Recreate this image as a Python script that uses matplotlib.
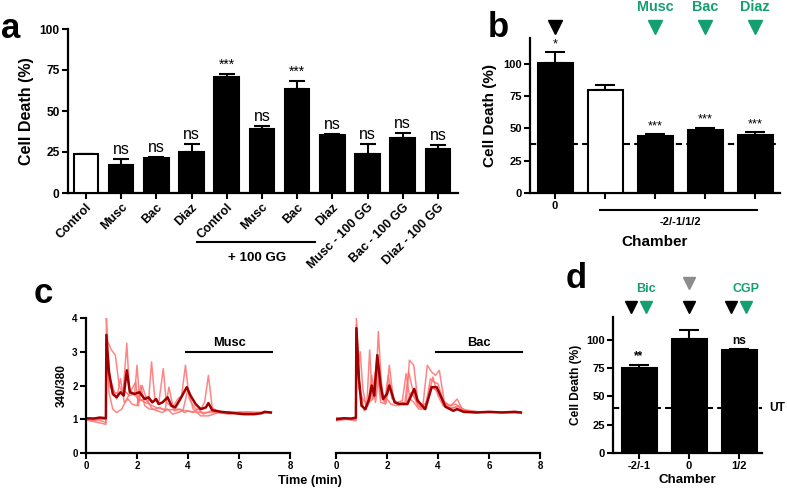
import matplotlib
matplotlib.use("Agg")
import matplotlib.pyplot as plt
import matplotlib.transforms as mtrans

plt.rcParams["font.family"] = ["Liberation Sans", "DejaVu Sans"]
plt.rcParams["font.weight"] = "bold"
plt.rcParams["axes.labelweight"] = "bold"

GREEN = "#14a06e"
DARK = "#a00000"
LIGHT = "#ff7070"

# ---- panel a data
a_labels = ["Control", "Musc", "Bac", "Diaz", "Control", "Musc", "Bac", "Diaz",
            "Musc - 100 GG", "Bac - 100 GG", "Diaz - 100 GG"]
a_vals = [23.5, 17, 21.5, 25, 70.5, 39, 63.5, 35.5, 23.5, 33.5, 27]
a_err = [0.5, 3.5, 0.5, 5, 1.8, 2, 4.7, 0.5, 6.4, 3, 2.5]
a_sig = ["", "ns", "ns", "ns", "***", "ns", "***", "ns", "ns", "ns", "ns"]
a_fill = ["white"] + ["black"] * 10

# ---- panel b data
b_vals = [100.5, 79.8, 44.2, 48.8, 45]
b_err = [8.3, 3.9, 1.3, 1.8, 2]
b_sig = ["*", "", "***", "***", "***"]
b_fill = ["black", "white", "black", "black", "black"]
b_ticklabels = ["0", "", "", "", ""]
b_drugs = ["", "", "Musc", "Bac", "Diaz"]
b_baseline = 38

# ---- panel d data
d_labels = ["-2/-1", "0", "1/2"]
d_vals = [75, 100.6, 90.5]
d_err = [2.9, 8.2, 1.3]
d_sig = ["**", "", "ns"]
d_drugs = ["Bic", "", "CGP"]
d_ut = 40

# ---- panel c data (340/380 ratio vs time, min)
musc_mean_t = [0, 0.3, 0.55, 0.78, 0.8, 0.9, 1.05, 1.2, 1.35, 1.48, 1.6, 1.72, 1.9, 2.1, 2.3,
               2.45, 2.6, 2.75, 2.85, 3.0, 3.2, 3.35, 3.5, 3.7, 3.95, 4.1, 4.3, 4.5, 4.7, 4.8,
               4.95, 5.3, 5.8, 6.2, 6.6, 6.9, 7.0, 7.25]
musc_mean_v = [1.03, 1.02, 1.05, 1.03, 3.5, 2.4, 1.75, 1.65, 1.8, 1.7, 2.45, 1.8, 1.75, 1.8, 1.6,
               1.65, 1.5, 1.6, 1.45, 1.5, 1.65, 1.4, 1.35, 1.6, 1.95, 1.7, 1.45, 1.3, 1.35, 1.48,
               1.27, 1.22, 1.18, 1.15, 1.15, 1.18, 1.22, 1.2]
musc_c1_t = [0, 0.3, 0.5, 0.78, 0.8, 0.85, 1.0, 1.15, 1.3, 1.45, 1.6, 1.7, 1.9, 2.0, 2.1, 2.3,
             2.5, 2.6, 2.75, 3.0, 3.3, 3.6, 3.9, 4.2, 4.6, 5.0, 5.5, 6.0, 6.5, 7.0, 7.25]
musc_c1_v = [1.0, 0.95, 0.98, 0.9, 4.0, 3.3, 3.05, 2.9, 2.0, 1.75, 3.25, 1.9, 1.7, 2.6, 1.6, 1.5,
             1.45, 1.4, 1.35, 1.3, 1.28, 1.3, 1.25, 1.22, 1.2, 1.2, 1.18, 1.2, 1.2, 1.2, 1.2]
musc_c2_t = [0, 0.4, 0.78, 0.8, 0.9, 1.1, 1.3, 1.5, 1.7, 1.9, 2.1, 2.3, 2.45, 2.57, 2.7, 2.85,
             3.03, 3.15, 3.4, 3.6, 3.75, 3.9, 4.05, 4.3, 4.5, 4.65, 4.8, 4.95, 5.2, 5.6, 6.0,
             6.5, 7.0, 7.25]
musc_c2_v = [1.05, 1.0, 1.0, 3.2, 2.0, 1.8, 1.75, 1.85, 1.7, 1.75, 1.55, 1.6, 1.5, 2.7, 1.6, 1.45,
             2.5, 1.5, 1.35, 1.6, 1.7, 2.6, 1.6, 1.3, 1.3, 1.5, 2.3, 1.35, 1.2, 1.22, 1.2,
             1.18, 1.2, 1.2]
musc_c3_t = [0, 0.5, 0.78, 0.8, 0.9, 1.05, 1.2, 1.4, 1.6, 1.8, 1.95, 2.05, 2.2, 2.4, 2.6, 2.8,
             3.0, 3.2, 3.4, 3.6, 3.8, 4.0, 4.2, 4.5, 4.8, 5.2, 5.6, 6.0, 6.5, 7.0, 7.25]
musc_c3_v = [0.98, 0.9, 0.85, 3.4, 1.8, 1.3, 1.2, 1.3, 1.6, 1.9, 2.1, 1.4, 2.0, 1.55, 1.3, 1.25,
             1.2, 1.3, 1.15, 1.2, 1.25, 1.9, 1.3, 1.1, 1.1, 1.2, 1.15, 1.2, 1.18, 1.2, 1.2]
musc_c4_t = [0, 0.5, 0.78, 0.8, 0.95, 1.2, 1.35, 1.5, 1.65, 1.8, 2.0, 2.15, 2.3, 2.5, 2.7, 2.9,
             3.1, 3.25, 3.45, 3.7, 3.85, 4.0, 4.2, 4.4, 4.6, 4.9, 5.3, 5.8, 6.3, 6.8, 7.25]
musc_c4_v = [1.0, 1.05, 1.0, 3.3, 2.2, 1.6, 2.2, 1.5, 1.6, 1.45, 1.4, 2.0, 1.4, 1.3, 1.3, 1.35,
             1.25, 1.95, 1.25, 1.3, 1.2, 1.25, 1.2, 1.3, 1.15, 1.25, 1.2, 1.2, 1.22, 1.2, 1.2]

bac_mean_t = [0, 0.3, 0.6, 0.78, 0.8, 0.9, 1.0, 1.15, 1.3, 1.4, 1.5, 1.62, 1.75, 1.85, 2.0,
              2.09, 2.3, 2.5, 2.8, 3.07, 3.2, 3.5, 3.75, 3.95, 4.1, 4.29, 4.6, 4.75, 5.0, 5.5,
              6.0, 6.5, 7.0, 7.25]
bac_mean_v = [1.0, 1.03, 1.02, 1.05, 3.7, 2.2, 1.4, 1.3, 1.6, 2.0, 1.7, 2.9, 2.0, 1.6, 1.75,
              2.0, 1.5, 1.45, 1.45, 1.9, 1.55, 1.3, 1.95, 1.95, 1.7, 1.37, 1.25, 1.3, 1.22, 1.2,
              1.22, 1.2, 1.22, 1.2]
bac_c1_t = [0, 0.4, 0.78, 0.8, 0.88, 0.95, 1.05, 1.2, 1.32, 1.42, 1.55, 1.66, 1.8, 1.95, 2.09,
            2.25, 2.45, 2.6, 2.75, 2.88, 3.05, 3.2, 3.4, 3.58, 3.75, 3.9, 4.05, 4.25, 4.5, 4.75,
            4.95, 5.3, 5.8, 6.3, 6.8, 7.25]
bac_c1_v = [1.0, 1.02, 0.98, 4.0, 2.6, 3.0, 1.9, 1.3, 3.05, 1.6, 1.7, 3.6, 1.8, 1.5, 2.6,
            1.6, 1.4, 1.5, 1.45, 2.75, 2.6, 1.6, 1.35, 2.6, 2.4, 2.3, 2.45, 1.5, 1.4, 1.6,
            1.3, 1.25, 1.2, 1.22, 1.2, 1.2]
bac_c2_t = [0, 0.4, 0.78, 0.8, 0.9, 1.0, 1.15, 1.3, 1.45, 1.6, 1.75, 1.9, 2.05, 2.2, 2.4, 2.6,
            2.75, 2.9, 3.05, 3.25, 3.5, 3.7, 3.85, 4.0, 4.2, 4.45, 4.7, 5.0, 5.5, 6.0, 6.5, 7.0,
            7.25]
bac_c2_v = [0.95, 1.0, 0.95, 3.8, 2.2, 1.4, 1.3, 1.5, 1.6, 2.8, 1.7, 1.5, 2.3, 1.6, 1.5, 1.55,
            2.35, 1.6, 1.5, 1.3, 1.3, 2.2, 2.1, 2.05, 1.55, 1.4, 1.45, 1.25, 1.2, 1.22, 1.2, 1.2,
            1.2]
bac_c3_t = [0, 0.5, 0.78, 0.8, 0.9, 1.05, 1.25, 1.4, 1.55, 1.7, 1.85, 2.0, 2.15, 2.35, 2.55,
            2.75, 2.95, 3.1, 3.3, 3.55, 3.7, 3.85, 4.0, 4.2, 4.5, 4.8, 5.1, 5.6, 6.1, 6.6, 7.25]
bac_c3_v = [1.05, 1.0, 1.0, 3.5, 1.9, 1.6, 1.4, 2.3, 1.5, 2.5, 1.7, 1.6, 1.45, 1.4, 1.5,
            1.45, 1.8, 1.6, 1.35, 1.5, 2.0, 1.9, 1.8, 1.5, 1.3, 1.4, 1.25, 1.22, 1.2, 1.2, 1.2]
bac_c4_t = [0, 0.5, 0.78, 0.8, 0.92, 1.1, 1.3, 1.45, 1.6, 1.75, 1.95, 2.1, 2.3, 2.5, 2.7, 2.85,
            3.0, 3.2, 3.45, 3.65, 3.8, 4.0, 4.2, 4.4, 4.7, 5.0, 5.5, 6.0, 6.5, 7.0, 7.25]
bac_c4_v = [1.0, 1.02, 1.0, 3.6, 2.0, 1.25, 1.5, 1.9, 2.6, 1.5, 1.45, 2.1, 1.5, 1.45, 1.5, 2.4,
            1.9, 1.4, 1.3, 1.8, 2.25, 1.7, 1.4, 1.35, 1.35, 1.25, 1.2, 1.2, 1.22, 1.2, 1.2]
drug_start, drug_end, drug_bar_y = 3.93, 7.3, 3.0

W, H = 787, 491


def px_axes(left, right, top, bottom):
    return fig.add_axes([left / W, 1 - bottom / H, (right - left) / W, (bottom - top) / H])


def style(ax, size=8):
    for s in ["top", "right"]:
        ax.spines[s].set_visible(False)
    for s in ["left", "bottom"]:
        ax.spines[s].set_linewidth(1.6)
    ax.tick_params(width=1.5, length=4, labelsize=size, pad=2)


def bars(ax, vals, err, fill, cap):
    x = list(range(len(vals)))
    ax.bar(x, vals, width=0.7, color=fill, edgecolor="black", linewidth=1.5, zorder=3)
    ax.errorbar(x, vals, yerr=[[0] * len(vals), err], fmt="none", ecolor="black",
                elinewidth=1.5, capsize=cap, capthick=1.5, zorder=2)


fig = plt.figure(figsize=(W / 100, H / 100), dpi=100)

# ---------------- a
ax = px_axes(68, 458, 29, 193)
style(ax, size=8.6)
bars(ax, a_vals, a_err, a_fill, 6)
ax.set_xlim(-0.51, 10.57)
ax.set_ylim(0, 100)
ax.set_yticks([0, 25, 50, 75, 100])
ax.set_xticks(range(len(a_labels)))
ax.set_xticklabels(a_labels, rotation=45, ha="right", rotation_mode="anchor", fontsize=9)
ax.set_ylabel("Cell Death (%)", fontsize=11.5, labelpad=4)
for i, s in enumerate(a_sig):
    if s == "ns":
        ax.annotate(s, (i, a_vals[i] + a_err[i]), xytext=(0, 1.5), textcoords="offset points",
                    ha="center", va="bottom", fontsize=11.5, fontweight="normal")
    elif s:
        ax.annotate(s, (i, a_vals[i] + a_err[i]), xytext=(0, 2), textcoords="offset points",
                    ha="center", va="bottom", fontsize=10, fontweight="normal")
tr = mtrans.blended_transform_factory(ax.transData, ax.transAxes)
ax.plot([3.15, 6.5], [-0.30, -0.30], color="black", lw=1.5, transform=tr, clip_on=False)
ax.text(4.85, -0.395, "+ 100 GG", transform=tr, ha="center", va="center", fontsize=9.6)
fig.text(11 / W, 1 - 38 / H, "a", fontsize=25, ha="center", va="baseline")

# ---------------- b
ax = px_axes(530, 780, 38, 193)
style(ax)
ax.axhline(b_baseline, color="black", lw=1.5, ls=(0, (3, 2)), zorder=1)
bars(ax, b_vals, b_err, b_fill, 7)
ax.set_xlim(-0.5, 4.5)
ax.set_ylim(0, 120)
ax.set_yticks([0, 25, 50, 75, 100])
ax.set_xticks(range(5))
ax.set_xticklabels(b_ticklabels, fontsize=8)
ax.set_ylabel("Cell Death (%)", fontsize=11, labelpad=4)
ax.set_xlabel("Chamber", fontsize=11, labelpad=17)
for i, s in enumerate(b_sig):
    if s:
        ax.annotate(s, (i, b_vals[i] + b_err[i]), xytext=(0, 1.5), textcoords="offset points",
                    ha="center", va="bottom", fontsize=9.3, fontweight="normal")
ax.plot([0], [128.5], marker="v", ms=10, color="black", clip_on=False)
for i, name in enumerate(b_drugs):
    if name:
        ax.plot([i], [128.5], marker="v", ms=10, color=GREEN, clip_on=False)
        ax.text(i, 144, name, ha="center", va="center", color=GREEN, fontsize=10.4)
tr = mtrans.blended_transform_factory(ax.transData, ax.transAxes)
ax.plot([0.9, 4.04], [-0.11, -0.11], color="black", lw=1.5, transform=tr, clip_on=False)
ax.text(2.5, -0.185, "-2/-1/1/2", transform=tr, ha="center", va="center", fontsize=8)
fig.text(498 / W, 1 - 37 / H, "b", fontsize=25, ha="center", va="baseline")

# ---------------- c
musc_cells = [(musc_c1_t, musc_c1_v), (musc_c2_t, musc_c2_v),
              (musc_c3_t, musc_c3_v), (musc_c4_t, musc_c4_v)]
bac_cells = [(bac_c1_t, bac_c1_v), (bac_c2_t, bac_c2_v),
             (bac_c3_t, bac_c3_v), (bac_c4_t, bac_c4_v)]
panels = [(86, 290, musc_cells, musc_mean_t, musc_mean_v, "Musc"),
          (336, 540, bac_cells, bac_mean_t, bac_mean_v, "Bac")]
for k, (l, r, cells, mt, mv, name) in enumerate(panels):
    ax = px_axes(l, r, 318, 453)
    style(ax, size=7)
    for t, v in cells:
        ax.plot(t, v, color=LIGHT, lw=1.1, alpha=0.85)
    ax.plot(mt, mv, color=DARK, lw=1.8)
    ax.plot([drug_start, drug_end], [drug_bar_y, drug_bar_y], color="black", lw=1.5)
    ax.text((drug_start + drug_end) / 2, drug_bar_y + 0.08, name, ha="center",
            va="bottom", fontsize=9.3)
    ax.set_xlim(0, 8)
    ax.set_ylim(0, 4)
    ax.set_xticks([0, 2, 4, 6, 8])
    if k == 0:
        ax.set_yticks([0, 1, 2, 3, 4])
        ax.set_ylabel("340/380", fontsize=8.6, labelpad=3)
    else:
        ax.spines["left"].set_visible(False)
        ax.set_yticks([])
fig.text(310 / W, 1 - 481 / H, "Time (min)", ha="center", va="center", fontsize=9.2)
fig.text(43 / W, 1 - 303 / H, "c", fontsize=25, ha="center", va="baseline")

# ---------------- d
ax = px_axes(613, 762, 317, 453)
style(ax)
ax.axhline(d_ut, color="black", lw=1.5, ls=(0, (3, 2)), zorder=1)
bars(ax, d_vals, d_err, ["black"] * 3, 7)
ax.set_xlim(-0.52, 2.46)
ax.set_ylim(0, 120)
ax.set_yticks([0, 25, 50, 75, 100])
ax.set_xticks(range(3))
ax.set_xticklabels(d_labels, fontsize=8)
ax.set_ylabel("Cell Death (%)", fontsize=8.6, labelpad=3)
ax.set_xlabel("Chamber", fontsize=9.6, labelpad=2)
for i, s in enumerate(d_sig):
    if s:
        ax.annotate(s, (i, d_vals[i] + d_err[i]), xytext=(0, 1.5), textcoords="offset points",
                    ha="center", va="bottom", fontsize=8.6)
ax.text(2.6, d_ut, "UT", ha="left", va="center", fontsize=8.6)
for i, name in enumerate(d_drugs):
    if name:
        ax.plot([i - 0.16], [129], marker="v", ms=9, color="black", clip_on=False)
        ax.plot([i + 0.14], [129], marker="v", ms=9, color=GREEN, clip_on=False)
        ax.text(i + 0.14, 145, name, ha="center", va="center", color=GREEN, fontsize=9)
    else:
        ax.plot([i], [129], marker="v", ms=9, color="black", clip_on=False)
        ax.plot([i], [150], marker="v", ms=9, color="#8c8c8c", clip_on=False)
fig.text(576 / W, 1 - 288 / H, "d", fontsize=25, ha="center", va="baseline")

fig.savefig("out.png", dpi=100)
